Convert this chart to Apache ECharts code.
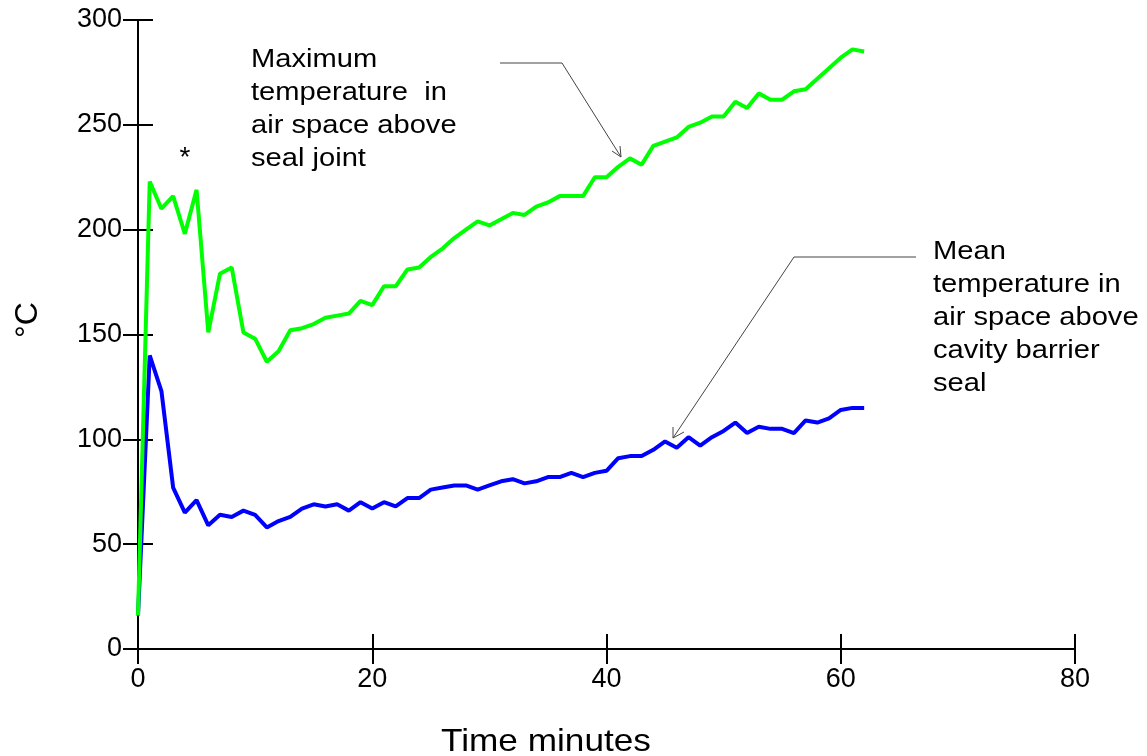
<!DOCTYPE html>
<html lang="en">
<head>
<meta charset="UTF-8">
<title>Temperature in air space</title>
<script src="https://cdn.jsdelivr.net/npm/echarts@6/dist/echarts.min.js"></script>
<style>
    html,body{margin:0;padding:0;background:#fff;}
    #main{width:1147px;height:756px;}
</style>
</head>
<body>
<div id="main"></div>
<script>
// time in minutes, one reading per minute
var minutes = [0,1,2,3,4,5,6,7,8,9,10,11,12,13,14,15,16,17,18,19,20,
    21,22,23,24,25,26,27,28,29,30,31,32,33,34,35,36,37,38,39,40,
    41,42,43,44,45,46,47,48,49,50,51,52,53,54,55,56,57,58,59,60,61,62];
// maximum temperature in air space above seal joint (green)
var maxTemp = [16,223,210,216,198,219,151,179,182,151,148,137,142,152,153,155,158,159,160,166,164,
    173,173,181,182,187,191,196,200,204,202,205,208,207,211,213,216,216,216,225,225,
    230,234,231,240,242,244,249,251,254,254,261,258,265,262,262,266,267,272,277,282,286,285];
// mean temperature in air space above cavity barrier seal (blue)
var meanTemp = [16,140,123,77,65,71,59,64,63,66,64,58,61,63,67,69,68,69,66,70,67,
    70,68,72,72,76,77,78,78,76,78,80,81,79,80,82,82,84,82,84,85,
    91,92,92,95,99,96,101,97,101,104,108,103,106,105,105,103,109,108,110,114,115,115];
var xTicks = [0,20,40,60,80];
var yTicks = [0,50,100,150,200,250,300];

function pairs(xs, ys){
    var out = [];
    for (var i = 0; i < xs.length; i++) out.push([xs[i], ys[i]]);
    return out;
}

var font = 'Arial, "Liberation Sans", sans-serif';
var axisBase = {
    type: 'value',
    axisLine: {show: true, lineStyle: {color: '#000', width: 2}},
    axisTick: {show: true, length: 15, lineStyle: {color: '#000', width: 2}},
    splitLine: {show: false}
};
// second axis only draws the inner half of the crossing ticks
var innerAxis = {
    type: 'value',
    axisLine: {show: false},
    axisTick: {show: true, inside: true, length: 15, lineStyle: {color: '#000', width: 2}},
    axisLabel: {show: false},
    splitLine: {show: false}
};

var myChart = echarts.init(document.getElementById('main'), null, {renderer: 'canvas'});
var option = {
    animation: false,
    backgroundColor: '#fff',
    grid: {left: 138, right: 72, top: 20, bottom: 107, containLabel: false},
    xAxis: [
        Object.assign({}, axisBase, {
            position: 'bottom', min: xTicks[0], max: xTicks[xTicks.length - 1], interval: 20,
            axisLabel: {color: '#000', fontSize: 27, fontFamily: font, margin: 17}
        }),
        Object.assign({}, innerAxis, {
            position: 'bottom', offset: 0, min: xTicks[0], max: xTicks[xTicks.length - 1], interval: 20
        })
    ],
    yAxis: [
        Object.assign({}, axisBase, {
            position: 'left', min: yTicks[0], max: yTicks[yTicks.length - 1], interval: 50,
            axisLabel: {color: '#000', fontSize: 27, fontFamily: font, margin: 16}
        }),
        Object.assign({}, innerAxis, {
            position: 'left', offset: 0, min: yTicks[0], max: yTicks[yTicks.length - 1], interval: 50
        })
    ],
    series: [
        {
            name: 'Mean', type: 'line', xAxisIndex: 0, yAxisIndex: 0,
            data: pairs(minutes, meanTemp), showSymbol: false,
            lineStyle: {color: '#0000ff', width: 4}, itemStyle: {color: '#0000ff'}
        },
        {
            name: 'Maximum', type: 'line', xAxisIndex: 0, yAxisIndex: 0,
            data: pairs(minutes, maxTemp), showSymbol: false,
            lineStyle: {color: '#00ff00', width: 4}, itemStyle: {color: '#00ff00'}
        }
    ],
    graphic: [
        // axis titles
        {type: 'text', x: 546, y: 742, scaleX: 1.1, originX: 0, style: {
            text: 'Time minutes', fontSize: 32, fontFamily: font, fill: '#000',
            align: 'center', verticalAlign: 'middle'}},
        {type: 'text', x: 28, y: 320, rotation: Math.PI / 2, style: {
            text: '°C', fontSize: 32, fontFamily: font, fill: '#000',
            align: 'center', verticalAlign: 'middle'}},
        // asterisk above early peak
        {type: 'text', x: 185, y: 158, style: {
            text: '*', fontSize: 28, fontFamily: font, fill: '#000',
            align: 'center', verticalAlign: 'middle'}},
        // annotation texts
        {type: 'text', x: 251, y: 43, scaleX: 1.12, style: {
            text: 'Maximum\ntemperature  in\nair space above\nseal joint',
            fontSize: 26, lineHeight: 33, fontFamily: font, fill: '#000',
            align: 'left', verticalAlign: 'top'}},
        {type: 'text', x: 933, y: 235, scaleX: 1.12, style: {
            text: 'Mean\ntemperature in\nair space above\ncavity barrier\nseal',
            fontSize: 26, lineHeight: 33, fontFamily: font, fill: '#000',
            align: 'left', verticalAlign: 'top'}},
        // leader lines with open arrow heads
        {type: 'polyline', shape: {points: [[500, 63], [562, 63], [621, 157]]},
            style: {stroke: '#444', lineWidth: 1, fill: null}},
        {type: 'polyline', shape: {points: [[612, 151], [621, 157], [620, 146]]},
            style: {stroke: '#444', lineWidth: 1, fill: null}},
        {type: 'polyline', shape: {points: [[916, 257], [794, 257], [673, 438]]},
            style: {stroke: '#444', lineWidth: 1, fill: null}},
        {type: 'polyline', shape: {points: [[673, 427], [673, 438], [684, 432]]},
            style: {stroke: '#444', lineWidth: 1, fill: null}}
    ]
};
myChart.setOption(option);
</script>
</body>
</html>
